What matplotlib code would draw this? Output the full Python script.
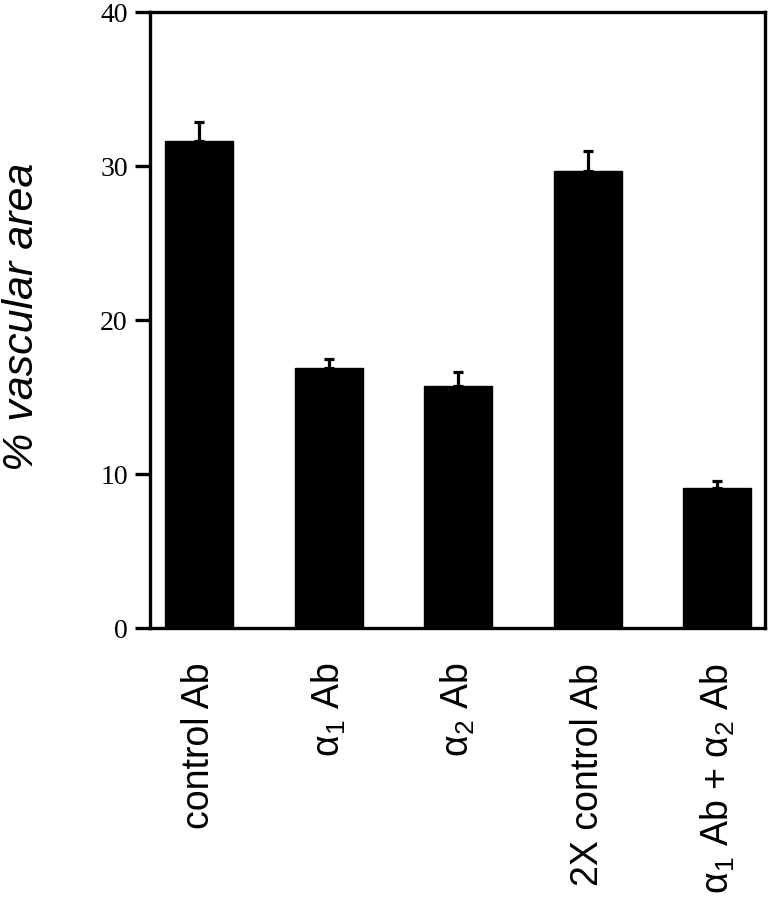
import matplotlib
matplotlib.use("Agg")
import matplotlib.pyplot as plt
import numpy as np

categories = ["control Ab", "α$_\\mathregular{1}$ Ab", "α$_\\mathregular{2}$ Ab",
              "2X control Ab", "α$_\\mathregular{1}$ Ab + α$_\\mathregular{2}$ Ab"]
values = [31.6, 16.9, 15.7, 29.7, 9.1]
errors = [1.25, 0.57, 0.93, 1.3, 0.43]
yticks = [0, 10, 20, 30, 40]

W, H = 774, 900
fig = plt.figure(figsize=(W / 100, H / 100), dpi=100)
ax = fig.add_axes([150 / W, 1 - 628 / H, (765 - 150) / W, (628 - 12) / H])

x = np.arange(len(categories))
ax.bar(x, values, width=0.525, color="black", edgecolor="black", zorder=2)
ax.errorbar(x, values, yerr=[np.zeros(len(errors)), errors], fmt="none",
            ecolor="black", elinewidth=2.3, capsize=3.3, capthick=2.3, zorder=1)

ax.set_xlim(-0.378, 4.367)
ax.set_ylim(0, 40)
ax.set_yticks(yticks)
ax.set_yticklabels([str(t) for t in yticks], fontsize=20, family="Liberation Serif")
ax.tick_params(axis="y", direction="out", length=11, width=2.4, pad=5)

ax.set_xticks(x)
ax.set_xticklabels(categories, rotation=90, fontsize=27, family="Liberation Sans",
                   va="top", ha="center")
ax.tick_params(axis="x", length=0, pad=25)

for s in ax.spines.values():
    s.set_linewidth(2.4)
    s.set_color("black")

fig.text(22 / W, 1 - 317 / H, "% vascular area", rotation=90, ha="center", va="center",
         fontsize=31, style="italic", family="Liberation Sans")

fig.savefig("out.png", dpi=100)
